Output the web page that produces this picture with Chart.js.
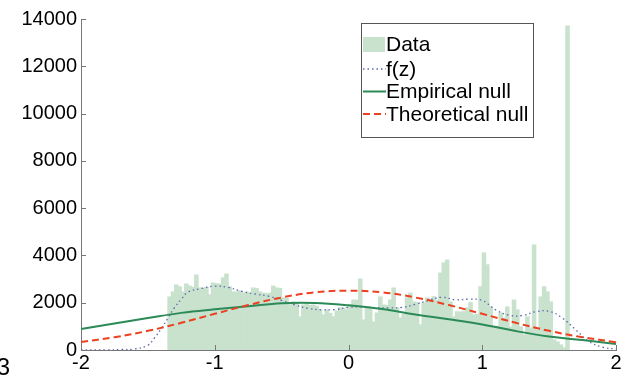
<!DOCTYPE html>
<html>
<head>
<meta charset="utf-8">
<script src="https://cdn.jsdelivr.net/npm/chart.js@4.4.1/dist/chart.umd.min.js"></script>
<style>
  html, body { margin: 0; padding: 0; background: #fff; }
</style>
</head>
<body>
<canvas id="hist" width="633" height="380"></canvas>
<script>
// histogram bins (left edge of first bin, width of each bin)
const binStart = -1.35;
const binWidth = 0.025;
const counts = [
  2240, 2450, 2750, 2670, 2450, 2790, 2700, 2650, 3170, 2620,
  2600, 2650, 2330, 2830, 2800, 2780, 3050, 3210, 2670, 2450,
  2450, 2500, 2400, 2450, 2400, 2620, 2600, 2450, 2400, 2380,
  2400, 2700, 2620, 2600, 2200, 2180, 1900, 2030, 2000, 1400,
  1900, 1950, 1880, 1900, 1850, 1690, 1480, 1700, 1550, 1400,
  1650, 1780, 1760, 1690, 1900, 2110, 2100, 3000, 1270, 1780,
  1750, 1180, 1560, 2240, 1900, 1880, 2110, 2620, 1780, 1350,
  1500, 2200, 2400, 2030, 2000, 1060, 1990, 2200, 2150, 2250,
  2100, 3250, 3680, 3800, 2030, 1400, 1610, 1600, 1620, 1780,
  2000, 1480, 1500, 2670, 4100, 3600, 1820, 970, 1000, 1560,
  1350, 1820, 970, 2110, 1690, 970, 630, 1400, 930, 4440,
  850, 2240, 2670, 2450, 2030, 420, 340, 210, 85, 13700
];

// null curves, read every 0.25
const nullX = [-2, -1.75, -1.5, -1.25, -1, -0.75, -0.5, -0.25, 0, 0.25, 0.5, 0.75, 1, 1.25, 1.5, 1.75, 2];
const empiricalNull = [890, 1120, 1350, 1570, 1720, 1850, 1980, 1990, 1890, 1730, 1500, 1300, 1080, 800, 570, 420, 250];
const theoreticalNull = [340, 540, 810, 1150, 1530, 1900, 2220, 2440, 2510, 2440, 2220, 1900, 1530, 1150, 810, 540, 330];

// f(z) mixture density
const fzX = [-2, -1.8, -1.7, -1.6, -1.5, -1.45, -1.4, -1.35, -1.3, -1.25, -1.2, -1.1, -1.0, -0.9, -0.8, -0.7, -0.6, -0.5, -0.4, -0.3, -0.2, -0.1, 0, 0.1, 0.2, 0.3, 0.4, 0.5, 0.6, 0.7, 0.8, 0.9, 1.0, 1.1, 1.2, 1.3, 1.4, 1.5, 1.6, 1.7, 1.8, 1.9, 2.0];
const fzY = [0, 0, 20, 40, 200, 510, 900, 1350, 1800, 2150, 2450, 2600, 2700, 2650, 2480, 2370, 2280, 2100, 1900, 1760, 1700, 1710, 1800, 1830, 1790, 1780, 1800, 1930, 2100, 2230, 2120, 2150, 2100, 1700, 1470, 1460, 1620, 1640, 1350, 850, 350, 120, 40];

const xTicks = [-2, -1, 0, 1, 2];
const yTicks = [0, 2000, 4000, 6000, 8000, 10000, 12000, 14000];

const FONT = "'Liberation Sans', Arial, sans-serif";
const AXIS = "#777";

// matlab style ticks pointing into the plot
const innerTicks = {
  id: "innerTicks",
  afterDraw(chart) {
    const { ctx, chartArea: a, scales: { x, y } } = chart;
    ctx.save();
    ctx.strokeStyle = AXIS;
    ctx.lineWidth = 1;
    ctx.beginPath();
    yTicks.forEach((v) => {
      const py = Math.round(y.getPixelForValue(v)) + 0.5;
      ctx.moveTo(a.left, py);
      ctx.lineTo(a.left + 5, py);
    });
    xTicks.forEach((v) => {
      const px = Math.round(x.getPixelForValue(v)) + 0.5;
      ctx.moveTo(px, a.bottom);
      ctx.lineTo(px, a.bottom - 5);
    });
    ctx.stroke();
    // cut-off label fragment at bottom left
    ctx.fillStyle = "#000";
    ctx.font = "24px " + FONT;
    ctx.textAlign = "right";
    ctx.textBaseline = "alphabetic";
    ctx.fillText("3", 10, 375);
    ctx.restore();
  },
};

// boxed legend inside the plot
const boxLegend = {
  id: "boxLegend",
  afterDraw(chart) {
    const ctx = chart.ctx;
    const ds = chart.data.datasets;
    const left = 361, top = 23, w = 172, h = 114;
    ctx.save();
    ctx.fillStyle = "#fff";
    ctx.fillRect(left, top, w, h);
    ctx.strokeStyle = "#555";
    ctx.lineWidth = 1;
    ctx.strokeRect(left + 0.5, top + 0.5, w, h);
    const rows = [44, 69, 91.5, 114];
    ctx.font = "21px " + FONT;
    ctx.textBaseline = "middle";
    ctx.textAlign = "left";
    ds.forEach((d, i) => {
      const yy = rows[i];
      if (d.type === "bar") {
        ctx.fillStyle = d.backgroundColor;
        ctx.fillRect(363, yy - 7, 22, 15);
      } else {
        ctx.strokeStyle = d.borderColor;
        ctx.lineWidth = d.borderWidth;
        ctx.setLineDash(d.borderDash || []);
        ctx.beginPath();
        ctx.moveTo(363, yy);
        ctx.lineTo(386, yy);
        ctx.stroke();
        ctx.setLineDash([]);
      }
      ctx.fillStyle = "#000";
      ctx.fillText(d.label, 386, yy + 1);
    });
    ctx.restore();
  },
};

const ctx = document.getElementById("hist").getContext("2d");
const chart_hist = new Chart(ctx, {
  type: "bar",
  data: {
    datasets: [
      {
        type: "bar",
        label: "Data",
        data: counts.map((c, i) => ({ x: binStart + binWidth * (i + 0.5), y: c })),
        backgroundColor: "#c8e2cd",
        borderWidth: 0,
        barPercentage: 1,
        categoryPercentage: 1,
        inflateAmount: 0.6,
        order: 4,
      },
      {
        type: "line",
        label: "f(z)",
        data: fzX.map((x, i) => ({ x: x, y: fzY[i] })),
        borderColor: "#5d68ad",
        borderWidth: 1.3,
        borderDash: [1.5, 3],
        pointRadius: 0,
        tension: 0.4,
        order: 3,
      },
      {
        type: "line",
        label: "Empirical null",
        data: nullX.map((x, i) => ({ x: x, y: empiricalNull[i] })),
        borderColor: "#2b8a57",
        borderWidth: 2,
        pointRadius: 0,
        tension: 0.4,
        order: 2,
      },
      {
        type: "line",
        label: "Theoretical null",
        data: nullX.map((x, i) => ({ x: x, y: theoreticalNull[i] })),
        borderColor: "#ec4020",
        borderWidth: 2,
        borderDash: [7, 4],
        pointRadius: 0,
        tension: 0.4,
        order: 1,
      },
    ],
  },
  options: {
    responsive: false,
    animation: false,
    layout: { padding: { top: 19, right: 17, left: 0, bottom: 0 } },
    scales: {
      x: {
        type: "linear",
        min: -2,
        max: 2,
        offset: false,
        afterBuildTicks: (s) => { s.ticks = xTicks.map((v) => ({ value: v })); },
        afterFit: (s) => { s.height = 30; },
        grid: { display: false, drawTicks: false },
        border: { color: AXIS, width: 1 },
        ticks: {
          font: { family: FONT, size: 20 },
          color: "#000",
          padding: 1,
          maxRotation: 0,
          callback: (v) => String(v),
        },
      },
      y: {
        min: 0,
        max: 14000,
        afterBuildTicks: (s) => { s.ticks = yTicks.map((v) => ({ value: v })); },
        afterFit: (s) => { s.width = 81; },
        grid: { display: false, drawTicks: false },
        border: { color: AXIS, width: 1 },
        ticks: {
          font: { family: FONT, size: 20 },
          color: "#000",
          padding: 4,
          callback: (v) => String(v),
        },
      },
    },
    plugins: {
      legend: { display: false },
      tooltip: { enabled: false },
    },
  },
  plugins: [innerTicks, boxLegend],
});
</script>
</body>
</html>
